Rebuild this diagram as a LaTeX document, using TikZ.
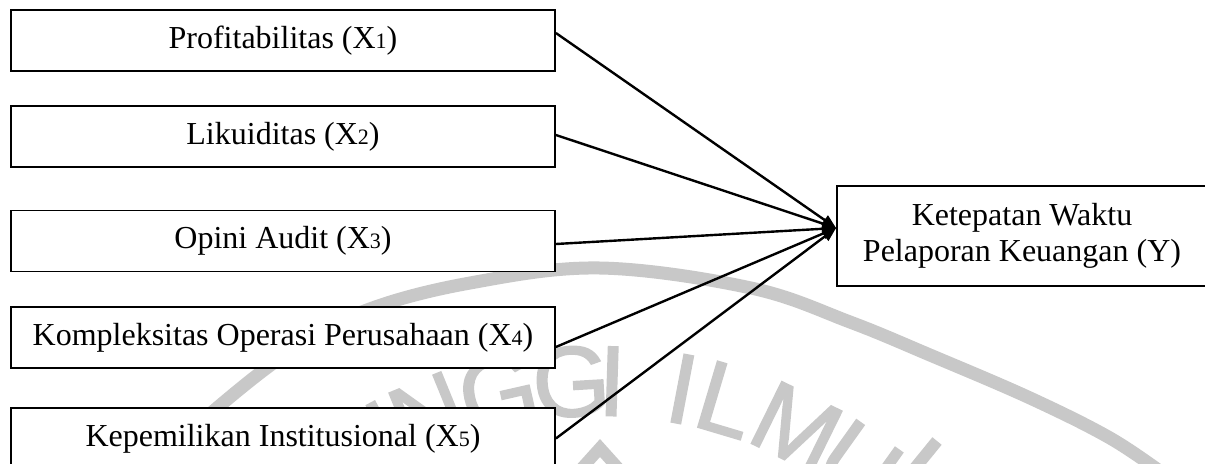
\documentclass[tikz,border=0pt]{standalone}
\usepackage{fontspec}
\setmainfont{Liberation Serif}
\newfontfamily\wmfont[FakeBold=1.6]{Liberation Sans}
\usetikzlibrary{arrows.meta,calc}
\definecolor{wmgray}{RGB}{200,200,200}
\newcommand\subidx[1]{{\fontsize{11}{11}\selectfont #1}}

\begin{document}
\begin{tikzpicture}[x=0.5pt,y=0.5pt,
  varbox/.style={draw=black, line width=0.9pt, fill=white,
    minimum width=272pt, minimum height=30.5pt, inner sep=0pt,
    font=\fontsize{16}{18}\selectfont},
  ybox/.style={draw=black, line width=0.9pt, fill=white,
    minimum width=185pt, minimum height=50pt, inner sep=0pt,
    align=center, font=\fontsize{16}{18}\selectfont},
  link/.style={line width=1.2pt, -{Triangle[length=7pt,width=5.5pt]}},
  wmletter/.style={text=wmgray, inner sep=0pt,
    font=\wmfont\fontsize{50}{50}\selectfont},
  wmstroke/.style={draw=wmgray, line width=6.5pt}]
\useasboundingbox (0,0) rectangle (1205,463);

% faint seal in the background
\draw[wmstroke] plot[smooth, tension=0.6] coordinates
  {(150,-7) (217,55) (292,113) (367,153) (470,180) (600,195) (751,175)
   (850,141) (930,108) (1030,65) (1110,25) (1165,-12)};
\foreach \ch/\ang [count=\i] in {T/-33.5, I/-28, N/-22.2, G/-12.8, G/-3.4,
    I/1.8, I/10.8, L/16.6, M/26.2, U/35.5}
  \node[wmletter, rotate=-\ang] (wm\i) at ($(598,-368)+({90-\ang}:450)$) {\ch};
\draw[wmstroke, line width=6pt] (582,-5) -- (600,15) -- (618,-5);
\draw[wmstroke, line width=6pt] (915,-5) -- (937,22);

% independent variables
\node[varbox] (x1) at (283,422.5) {Profitabilitas (X\subidx{1})};
\node[varbox] (x2) at (283,326.5) {Likuiditas (X\subidx{2})};
\node[varbox] (x3) at (283,222)   {Opini Audit (X\subidx{3})};
\node[varbox] (x4) at (283,125.5) {Kompleksitas Operasi Perusahaan (X\subidx{4})};
\node[varbox] (x5) at (283,24.5)  {Kepemilikan Institusional (X\subidx{5})};

% dependent variable
\node[ybox] (y) at (1022,227) {Ketepatan Waktu\\Pelaporan Keuangan (Y)};

% paths
\coordinate (tip) at ([yshift=4pt]y.west);
\draw[link] ([yshift=3.75pt]x1.east) -- (tip);
\draw[link] ([yshift=0.75pt]x2.east) -- (tip);
\draw[link] ([yshift=-1.5pt]x3.east) -- (tip);
\draw[link] ([yshift=-4.75pt]x4.east) -- (tip);
\draw[link] (x5.east) -- (tip);
\end{tikzpicture}
\end{document}
